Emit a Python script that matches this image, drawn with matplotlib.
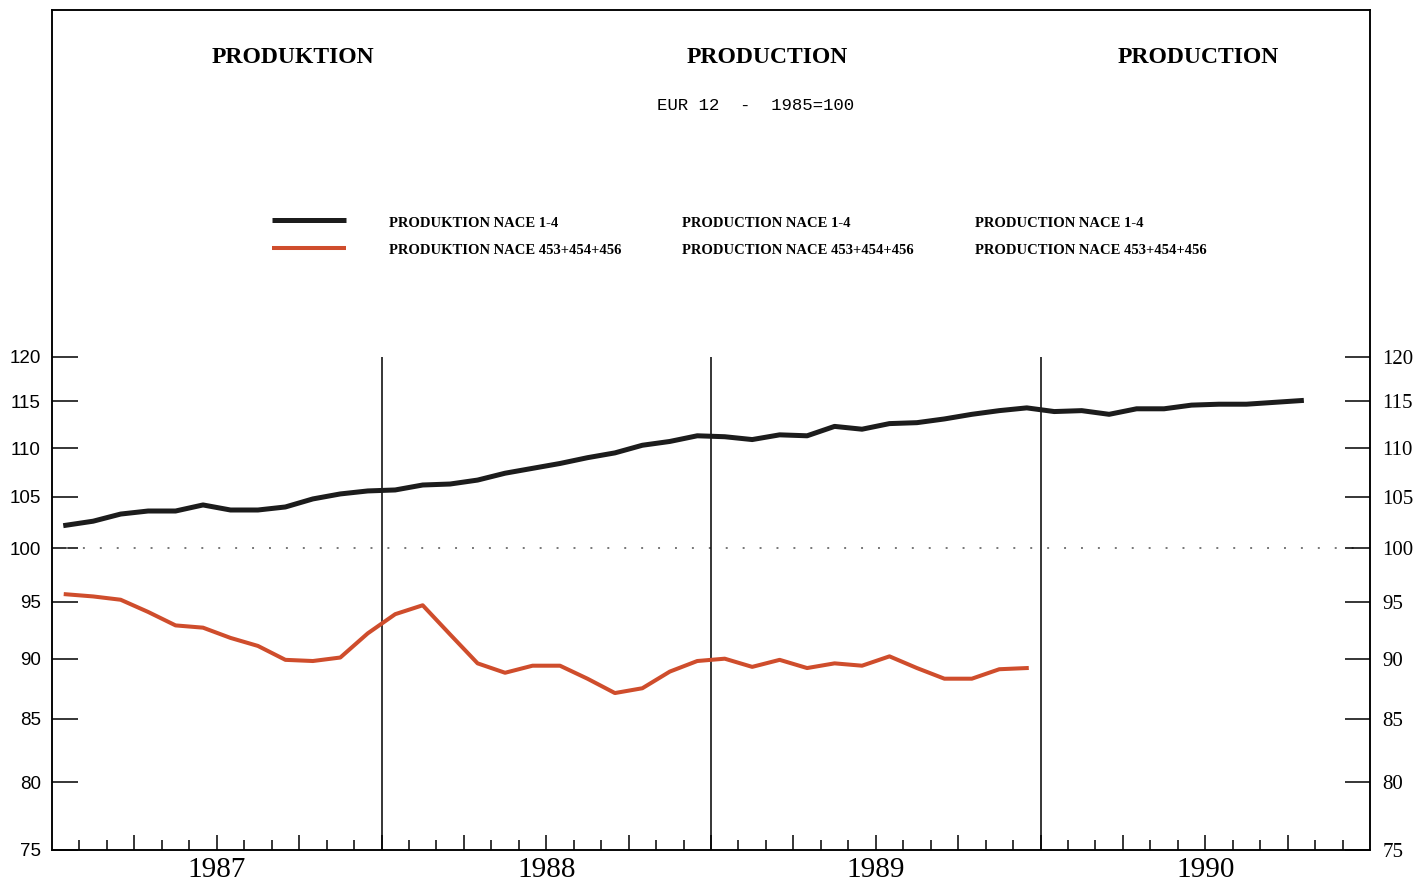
import numpy as np
import matplotlib.pyplot as plt
from matplotlib.ticker import FixedLocator, NullFormatter, NullLocator

# Monthly index values, EUR 12, 1985=100 (Jan 1987 onwards)
nace_1_4 = [102.2, 102.6, 103.3, 103.6, 103.6, 104.2, 103.7, 103.7, 104.0, 104.8, 105.3, 105.6,
            105.7, 106.2, 106.3, 106.7, 107.4, 107.9, 108.4, 109.0, 109.5, 110.3, 110.7, 111.3,
            111.2, 110.9, 111.4, 111.3, 112.3, 112.0, 112.6, 112.7, 113.1, 113.6, 114.0, 114.3,
            113.9, 114.0, 113.6, 114.2, 114.2, 114.6, 114.7, 114.7, 114.9, 115.1]
nace_453 = [95.7, 95.5, 95.2, 94.1, 92.9, 92.7, 91.8, 91.1, 89.9, 89.8, 90.1, 92.2,
            93.9, 94.7, 92.1, 89.6, 88.8, 89.4, 89.4, 88.3, 87.1, 87.5, 88.9, 89.8,
            90.0, 89.3, 89.9, 89.2, 89.6, 89.4, 90.2, 89.2, 88.3, 88.3, 89.1, 89.2]
years = ['1987', '1988', '1989', '1990']
yticks = [75, 80, 85, 90, 95, 100, 105, 110, 115, 120]
titles = ['PRODUKTION', 'PRODUCTION', 'PRODUCTION']
subtitle = 'EUR 12  -  1985=100'
legend_rows = [['PRODUKTION NACE 1-4', 'PRODUCTION NACE 1-4', 'PRODUCTION NACE 1-4'],
               ['PRODUKTION NACE 453+454+456', 'PRODUCTION NACE 453+454+456',
                'PRODUCTION NACE 453+454+456']]

BLACK = '#1c1c1c'
RED = '#cf4d2c'
n_months = 12 * len(years)

fig = plt.figure(figsize=(14.16, 8.83), dpi=100)
ax = fig.add_axes([52 / 1416, 33 / 883, 1318 / 1416, 840 / 883])

ax.set_yscale('log')
ax.set_ylim(75, 167)
ax.set_xlim(-0.5, n_months - 0.5)

# series
ax.plot(np.arange(len(nace_1_4)), nace_1_4, color=BLACK, lw=3.6, solid_joinstyle='round', zorder=4)
ax.plot(np.arange(len(nace_453)), nace_453, color=RED, lw=2.9, solid_joinstyle='round', zorder=4)

# 100 reference and year separators
ax.plot([0, n_months - 1], [100, 100], color='#777777', lw=1.4, ls=(0, (1, 7.7)), zorder=2)
ax.vlines([12 * k - 0.5 for k in range(1, len(years))], 75, 120, color='black', lw=1.1, zorder=3)

# y axis left
ax.yaxis.set_major_locator(FixedLocator(yticks))
ax.yaxis.set_minor_locator(NullLocator())
ax.yaxis.set_minor_formatter(NullFormatter())
ax.set_yticklabels([str(v) for v in yticks], fontsize=13.5, family='Liberation Sans')
ax.tick_params(axis='y', direction='in', length=19, width=1.1, pad=8)

# y axis right
ax2 = ax.twinx()
ax2.set_yscale('log')
ax2.set_ylim(ax.get_ylim())
ax2.yaxis.set_major_locator(FixedLocator(yticks))
ax2.yaxis.set_minor_locator(NullLocator())
ax2.yaxis.set_minor_formatter(NullFormatter())
ax2.set_yticklabels([str(v) for v in yticks], fontsize=15, family='Liberation Serif')
ax2.tick_params(axis='y', direction='in', length=18, width=1.1, pad=9)

# x axis: month ticks, longer at quarters
bounds = [m + 0.5 for m in range(n_months - 1)]
ax.xaxis.set_major_locator(FixedLocator([b for b in bounds if (b + 0.5) % 3 == 0]))
ax.xaxis.set_minor_locator(FixedLocator([b for b in bounds if (b + 0.5) % 3 != 0]))
ax.xaxis.set_major_formatter(NullFormatter())
ax.tick_params(axis='x', which='major', direction='in', length=11, width=1.1)
ax.tick_params(axis='x', which='minor', direction='in', length=7.5, width=1.1)

for k, yr in enumerate(years):
    ax.text(12 * k + 5.5, -0.024, yr, transform=ax.get_xaxis_transform(),
            ha='center', va='center', fontsize=21, family='Liberation Serif')

for sp in list(ax.spines.values()) + list(ax2.spines.values()):
    sp.set_linewidth(1.1)

# titles
for x, t in zip([0.183, 0.543, 0.870], titles):
    ax.text(x, 0.943, t, transform=ax.transAxes, ha='center', va='center',
            fontsize=17, fontweight='bold', family='Liberation Serif')
ax.text(0.534, 0.886, subtitle, transform=ax.transAxes, ha='center', va='center',
        fontsize=12.5, family='Liberation Mono')

# legend
for y, c, lw in [(0.750, BLACK, 3.6), (0.717, RED, 2.9)]:
    ax.plot([0.167, 0.223], [y, y], transform=ax.transAxes, color=c, lw=lw, solid_capstyle='butt')
for row, y in zip(legend_rows, [0.746, 0.714]):
    for x, t in zip([0.2557, 0.478, 0.7003], row):
        ax.text(x, y, t, transform=ax.transAxes, ha='left', va='center',
                fontsize=10.5, fontweight='bold', family='Liberation Serif')

plt.savefig('out.png', dpi=100)
